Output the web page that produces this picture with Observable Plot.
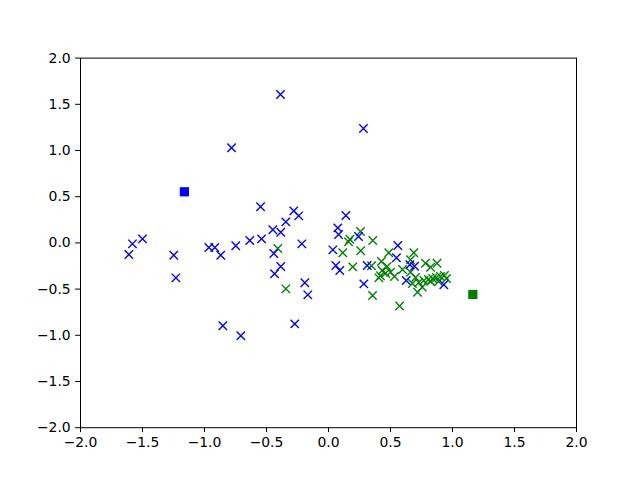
<!DOCTYPE html>
<html>
<head>
<meta charset="utf-8">
<script src="https://cdn.jsdelivr.net/npm/d3@7"></script>
<script src="https://cdn.jsdelivr.net/npm/@observablehq/plot@0.6"></script>
<style>
  html, body { margin: 0; padding: 0; background: #fff; }
  svg { display: block; }
</style>
</head>
<body>
<div id="chart"></div>
<script>
const blueX = [-0.387, 0.282, -0.782, -0.548, -0.280, -0.240, -0.344, -0.449, -0.385, -0.215,
  -1.581, -1.500, -1.610, -1.248, -0.965, -0.917, -0.869, -0.748, -0.635, -0.540,
  -0.441, -0.385, -0.435, -0.191, -0.167, -1.231, -0.852, -0.707, -0.272, 0.140,
  0.075, 0.081, 0.242, 0.035, 0.059, 0.091, 0.312, 0.285, 0.559, 0.548,
  0.656, 0.694, 0.627, 0.930];
const blueY = [1.606, 1.238, 1.029, 0.391, 0.347, 0.293, 0.228, 0.142, 0.116, -0.010,
  -0.010, 0.044, -0.126, -0.133, -0.050, -0.050, -0.133, -0.031, 0.026, 0.044,
  -0.115, -0.255, -0.334, -0.432, -0.562, -0.378, -0.897, -1.005, -0.876, 0.297,
  0.163, 0.091, 0.069, -0.075, -0.245, -0.299, -0.245, -0.443, -0.028, -0.161,
  -0.237, -0.252, -0.407, -0.453];

const greenX = [-0.409, -0.344, 0.258, 0.172, 0.161, 0.357, 0.115, 0.260, 0.196, 0.347,
  0.427, 0.486, 0.406, 0.355, 0.573, 0.433, 0.460, 0.500, 0.419, 0.473,
  0.532, 0.688, 0.661, 0.782, 0.875, 0.823, 0.661, 0.702, 0.728, 0.769,
  0.718, 0.756, 0.806, 0.839, 0.871, 0.903, 0.935, 0.952, 0.887, 0.823,
  0.677, 0.597];
const greenY = [-0.061, -0.497, 0.123, 0.040, 0.012, 0.026, -0.107, -0.085, -0.259, -0.248,
  -0.201, -0.107, -0.378, -0.569, -0.683, -0.299, -0.328, -0.317, -0.355, -0.255,
  -0.363, -0.107, -0.183, -0.220, -0.220, -0.263, -0.317, -0.374, -0.429, -0.407,
  -0.534, -0.479, -0.396, -0.385, -0.374, -0.363, -0.353, -0.385, -0.418, -0.418,
  -0.439, -0.288];

const centerX = [-1.162, 1.164];
const centerY = [0.553, -0.558];
const centerColor = ["#0000ff", "#008000"];

const tickValues = [-2.0, -1.5, -1.0, -0.5, 0.0, 0.5, 1.0, 1.5, 2.0];

const blue = blueX.map((x, i) => ({x, y: blueY[i]}));
const green = greenX.map((x, i) => ({x, y: greenY[i]}));
const centers = centerX.map((x, i) => ({x, y: centerY[i], c: centerColor[i]}));

const chart = Plot.plot({
  width: 640,
  height: 480,
  marginLeft: 80,
  marginRight: 64,
  marginTop: 57.6,
  marginBottom: 52.8,
  style: {fontFamily: "DejaVu Sans", fontSize: "13.9px", color: "black", background: "white"},
  x: {domain: [-2, 2]},
  y: {domain: [-2, 2]},
  marks: [
    Plot.dot(green, {x: "x", y: "y", symbol: "times", r: 3.9, stroke: "#008000", strokeWidth: 1.4}),
    Plot.dot(blue, {x: "x", y: "y", symbol: "times", r: 3.9, stroke: "#0000ff", strokeWidth: 1.4}),
    Plot.dot(centers, {x: "x", y: "y", symbol: "square", r: 5.2, fill: "c", stroke: "none"}),
    Plot.frame({stroke: "black", strokeWidth: 1}),
    Plot.axisX({ticks: tickValues, tickFormat: ".1f", tickSize: 4.9, tickPadding: 4.9, label: null, stroke: "black"}),
    Plot.axisY({ticks: tickValues, tickFormat: ".1f", tickSize: 4.9, tickPadding: 4.9, label: null, stroke: "black"})
  ]
});
document.getElementById("chart").appendChild(chart);
</script>
</body>
</html>
